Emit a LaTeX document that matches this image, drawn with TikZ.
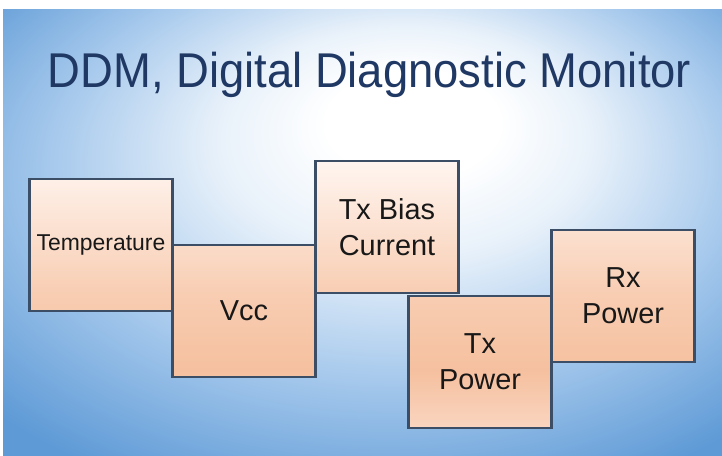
\documentclass[tikz,border=0pt]{standalone}
\usepackage{fontspec}
\setmainfont{Liberation Sans}
\newfontfamily\titlefont[FakeStretch=0.93]{Liberation Sans}
\usetikzlibrary{positioning}

\definecolor{bgblue}{RGB}{94,154,214}
\definecolor{bgmid}{RGB}{165,200,236}
\definecolor{bglight}{RGB}{232,241,250}
\definecolor{titleblue}{RGB}{31,56,100}
\definecolor{boxline}{RGB}{60,78,102}
\definecolor{textblack}{RGB}{24,24,24}
\definecolor{peachtop}{RGB}{255,245,240}
\definecolor{peachmid}{RGB}{248,205,178}
\definecolor{peachdeep}{RGB}{245,192,159}
\definecolor{peachend}{RGB}{250,213,192}

\pgfdeclareradialshading{ddmback}{\pgfpoint{4bp}{14bp}}{color(0bp)=(white); color(6bp)=(white); color(13bp)=(bglight); color(24bp)=(bgmid); color(36bp)=(bgblue); color(50bp)=(bgblue)}
\pgfdeclareverticalshading{ddmpeach}{100bp}{color(0bp)=(peachend); color(25bp)=(peachend); color(36bp)=(peachdeep); color(50bp)=(peachmid); color(75bp)=(peachtop); color(100bp)=(peachtop)}

\tikzset{
  ddmbox/.style={draw=boxline, line width=2.8bp, minimum width=143bp, minimum height=132bp,
    inner sep=0pt, outer sep=0pt, text=textblack, align=center, font=\fontsize{29}{36}\selectfont,
    path picture={\shade[shading=ddmpeach] (grouplo) rectangle (grouphi);}}
}

\begin{document}
\begin{tikzpicture}[x=1bp,y=1bp]
  \useasboundingbox (0,0) rectangle (722,456);
  % Background
  \fill[white] (0,0) rectangle (722,456);
  \shade[shading=ddmback] (3,0) rectangle (722,446);
  \node[anchor=base, text=titleblue, font=\titlefont\fontsize{49}{58}\selectfont] (title) at (369.5,368) {DDM, Digital Diagnostic Monitor};
  % Blocks
  \coordinate (grouplo) at (0,27);
  \coordinate (grouphi) at (722,295);
  \node[ddmbox, font=\fontsize{23}{28}\selectfont] (temp) at (101,211) {Temperature};
  \node[ddmbox, anchor=north west] (vcc) at (temp.east) {Vcc};
  \node[ddmbox, anchor=north west] (bias) at ([yshift=84bp]vcc.north east) {Tx Bias\\Current};
  \node[ddmbox, anchor=north west] (txpow) at ([xshift=-50bp,yshift=-3bp]bias.south east) {Tx\\Power};
  \node[ddmbox, anchor=west] (rxpow) at (txpow.north east) {Rx\\Power};
\end{tikzpicture}
\end{document}
